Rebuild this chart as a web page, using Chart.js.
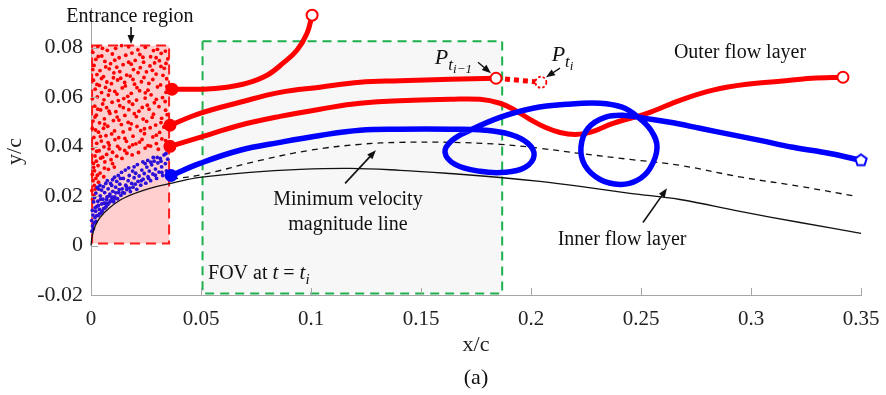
<!DOCTYPE html>
<html>
<head>
<meta charset="utf-8">
<script src="https://cdn.jsdelivr.net/npm/chart.js@4.4.1/dist/chart.umd.min.js"></script>
<style>
  html, body { margin: 0; padding: 0; background: #fff; }
</style>
</head>
<body>
<canvas id="flowChart" width="886" height="395"></canvas>
<script>
// axis ticks
const xTickValues = [0, 0.05, 0.1, 0.15, 0.2, 0.25, 0.3, 0.35];
const yTickValues = [-0.02, 0, 0.02, 0.04, 0.06, 0.08];

// solid black line (wall side)
const wallLine = [[0,0],[0.0005,0.0036],[0.0018,0.0077],[0.0041,0.0113],[0.0086,0.0154],[0.0155,0.0194],[0.0268,0.0231],[0.0382,0.0255],[0.0495,0.0275],[0.0723,0.0296],[0.095,0.0308],[0.1177,0.0312],[0.1405,0.0304],[0.1632,0.0291],[0.1859,0.0275],[0.2041,0.0259],[0.2223,0.0239],[0.245,0.0211],[0.2677,0.0186],[0.295,0.0138],[0.3223,0.0093],[0.35,0.0049]];

// dashed black line: minimum velocity magnitude
const minVelLine = [[0.0368,0.0268],[0.0509,0.0287],[0.0768,0.0344],[0.0995,0.0385],[0.1223,0.0409],[0.1405,0.0417],[0.1632,0.0417],[0.1859,0.0409],[0.2041,0.0393],[0.2223,0.0372],[0.245,0.0348],[0.2677,0.0324],[0.2964,0.0275],[0.3223,0.0239],[0.3482,0.0198]];

// outer layer paths (red)
const outerPath1 = [[0.0368,0.0632],[0.0509,0.0632],[0.0618,0.064],[0.0709,0.0656],[0.08,0.0688],[0.0873,0.0737],[0.0936,0.0789],[0.0982,0.0858],[0.1005,0.0931]];
const outerPath2 = [[0.0359,0.0486],[0.0495,0.0534],[0.0677,0.0579],[0.0859,0.0619],[0.1041,0.064],[0.1223,0.066],[0.1405,0.0666],[0.1632,0.0672],[0.1841,0.0676]];
const outerPath3 = [[0.0359,0.0401],[0.0495,0.0437],[0.0677,0.0486],[0.0859,0.0522],[0.1041,0.0551],[0.1223,0.0575],[0.1464,0.0587],[0.1632,0.0591],[0.1768,0.0591],[0.1859,0.0575],[0.1927,0.0547],[0.1995,0.051],[0.2064,0.0478],[0.2132,0.0457],[0.22,0.0449],[0.2268,0.0457],[0.2373,0.0494],[0.2527,0.0534],[0.2677,0.0587],[0.2827,0.0628],[0.2982,0.0652],[0.3132,0.0664],[0.3277,0.0676],[0.3418,0.068]];
const nextStep = [[0.1841,0.0676],[0.2045,0.066]];

// inner layer path (blue)
const innerPath = [[0.0364,0.0283],[0.0495,0.0332],[0.0677,0.0385],[0.0859,0.0417],[0.1041,0.0445],[0.1223,0.0466],[0.1405,0.047],[0.1632,0.047],[0.1791,0.0466],[0.1905,0.0449],[0.1986,0.0413],[0.2014,0.0364],[0.1973,0.0316],[0.1882,0.0296],[0.1768,0.03],[0.1655,0.0328],[0.1609,0.0377],[0.1641,0.0425],[0.1723,0.0466],[0.1859,0.0518],[0.2009,0.0555],[0.2164,0.0571],[0.2314,0.0575],[0.2414,0.0559],[0.2482,0.0522],[0.2545,0.0466],[0.2573,0.0397],[0.2541,0.0312],[0.2482,0.0263],[0.2405,0.0247],[0.2314,0.0267],[0.2245,0.0324],[0.2227,0.0397],[0.2259,0.0474],[0.2336,0.0518],[0.2427,0.0526],[0.2518,0.0514],[0.2632,0.0498],[0.2768,0.0474],[0.2905,0.0449],[0.3041,0.0425],[0.3191,0.0397],[0.3359,0.0372],[0.35,0.0344]];

// particles in the entrance region
const redSeeds = [
  [0.0031,0.0804],[0.0112,0.0797],[0.0139,0.0808],[0.0247,0.0801],[0.0302,0.0793],
  [0.0008,0.0781],[0.0074,0.0789],[0.0186,0.0778],[0.0213,0.0791],[0.0338,0.0786],
  [0.0049,0.0766],[0.0097,0.0774],[0.0158,0.0769],[0.0271,0.0763],[0.0319,0.0777],
  [0.0022,0.0752],[0.0128,0.0759],[0.0201,0.0748],[0.0236,0.0761],[0.0349,0.0754],
  [0.0063,0.0744],[0.0089,0.0735],[0.0171,0.0741],[0.0289,0.0738],[0.0311,0.0747],
  [0.0014,0.0728],[0.0117,0.0721],[0.0146,0.0731],[0.0224,0.0719],[0.0268,0.0726],
  [0.0041,0.0707],[0.0083,0.0714],[0.0193,0.0711],[0.0252,0.0702],[0.0333,0.0716],
  [0.0027,0.0691],[0.0104,0.0698],[0.0162,0.0689],[0.0214,0.0699],[0.0296,0.0693],
  [0.0057,0.0683],[0.0135,0.0676],[0.0178,0.0685],[0.0241,0.0679],[0.0344,0.0674],
  [0.0011,0.0668],[0.0072,0.0661],[0.0121,0.0669],[0.0229,0.0662],[0.0281,0.0671],
  [0.0038,0.0647],[0.0093,0.0654],[0.0156,0.0645],[0.0198,0.0652],[0.0316,0.0649],
  [0.0019,0.0632],[0.0066,0.0639],[0.0142,0.0637],[0.0259,0.0628],[0.0302,0.0641],
  [0.0048,0.0618],[0.0108,0.0623],[0.0183,0.0615],[0.0221,0.0626],[0.0341,0.0619],
  [0.0029,0.0601],[0.0079,0.0608],[0.0167,0.0603],[0.0273,0.0609],[0.0325,0.0598],
  [0.0006,0.0593],[0.0124,0.0586],[0.0149,0.0594],[0.0207,0.0588],[0.0246,0.0596],
  [0.0053,0.0572],[0.0096,0.0579],[0.0189,0.0571],[0.0288,0.0577],[0.0337,0.0582],
  [0.0017,0.0563],[0.0071,0.0557],[0.0131,0.0565],[0.0233,0.0558],[0.0309,0.0561],
  [0.0044,0.0548],[0.0113,0.0541],[0.0172,0.0549],[0.0218,0.0543],[0.0264,0.0551],
  [0.0024,0.0527],[0.0086,0.0534],[0.0154,0.0526],[0.0197,0.0533],[0.0346,0.0529],
  [0.0061,0.0512],[0.0119,0.0519],[0.0237,0.0511],[0.0278,0.0518],[0.0321,0.0514],
  [0.0009,0.0503],[0.0039,0.0496],[0.0102,0.0505],[0.0169,0.0498],[0.0253,0.0502],
  [0.0076,0.0482],[0.0138,0.0489],[0.0209,0.0481],[0.0294,0.0487],[0.0331,0.0479],
  [0.0021,0.0467],[0.0057,0.0474],[0.0177,0.0471],[0.0226,0.0464],[0.0269,0.0476],
  [0.0034,0.0458],[0.0094,0.0451],[0.0146,0.0459],[0.0243,0.0452],[0.0312,0.0457],
  [0.0013,0.0437],[0.0068,0.0444],[0.0126,0.0436],[0.0191,0.0442],[0.0281,0.0439],
  [0.0047,0.0422],[0.0109,0.0428],[0.0161,0.0421],[0.0232,0.0429],[0.0339,0.0424],
  [0.0026,0.0413],[0.0083,0.0406],[0.0204,0.0411],[0.0259,0.0404],[0.0297,0.0412],
  [0.0008,0.0392],[0.0059,0.0399],[0.0131,0.0391],[0.0174,0.0398],[0.0246,0.0394],
  [0.0037,0.0383],[0.0098,0.0377],[0.0153,0.0384],[0.0216,0.0376],[0.0306,0.0389],
  [0.0018,0.0362],[0.0071,0.0368],[0.0117,0.0361],[0.0187,0.0366],
  [0.0044,0.0353],[0.0091,0.0347],[0.0141,0.0352],
  [0.0011,0.0332],[0.0063,0.0338],
  [0.0032,0.0323],[0.0106,0.0317],
  [0.0016,0.0302],[0.0079,0.0308],[0.0041,0.0293],[0.0006,0.0287],
  [0.0022,0.0271],[0.0058,0.0278],[0.0009,0.0262],[0.0034,0.0256],
  [0.0015,0.0243],[0.0004,0.0222],[0.0012,0.0203],[0.0007,0.0186],
  [0.0052,0.0797],[0.0171,0.0803],[0.0284,0.0788],[0.0033,0.0764],[0.0222,0.0772],[0.0296,0.0759],
  [0.0108,0.0749],[0.0183,0.0733],[0.0341,0.0736],[0.0067,0.0722],[0.0239,0.0741],[0.0318,0.0724],
  [0.0131,0.0703],[0.0279,0.0708],[0.0008,0.0711],[0.0048,0.0675],[0.0191,0.0671],[0.0327,0.0688],
  [0.0153,0.0659],[0.0263,0.0655],[0.0102,0.0678],[0.0027,0.0651],[0.0209,0.0638],[0.0345,0.0643],
  [0.0118,0.0612],[0.0247,0.0617],[0.0084,0.0627],[0.0059,0.0589],[0.0297,0.0591],[0.0173,0.0581],
  [0.0031,0.0551],[0.0147,0.0557],[0.0256,0.0567],[0.0082,0.0543],[0.0206,0.0521],[0.0339,0.0547],
  [0.0018,0.0519],[0.0127,0.0507],[0.0284,0.0531],[0.0062,0.0491],[0.0183,0.0492],[0.0318,0.0497],
  [0.0107,0.0463],[0.0243,0.0472],[0.0006,0.0473],[0.0154,0.0433],[0.0297,0.0446],[0.0043,0.0441],
  [0.0078,0.0416],[0.0221,0.0418],[0.0322,0.0431],[0.0121,0.0401],[0.0189,0.0407],[0.0271,0.0402],
  [0.0026,0.0381],[0.0163,0.0373],[0.0082,0.0391],[0.0053,0.0357],[0.0098,0.0331],
  [0.0024,0.0341],[0.0061,0.0313],[0.0012,0.0316],[0.0029,0.0284],[0.0019,0.0228]
];
const blueSeeds = [
  [0.0004,0.0058],[0.0007,0.0079],[0.0003,0.0101],[0.0011,0.0068],[0.0009,0.0123],[0.0014,0.0091],[0.0006,0.0142],[0.0018,0.0113],
  [0.0012,0.0176],[0.0023,0.0097],[0.0021,0.0139],[0.0027,0.0158],[0.0016,0.0194],[0.0033,0.0121],[0.0031,0.0179],[0.0038,0.0146],
  [0.0042,0.0201],[0.0046,0.0131],[0.0049,0.0168],[0.0054,0.0187],[0.0057,0.0149],[0.0062,0.0214],[0.0066,0.0171],[0.0069,0.0158],
  [0.0073,0.0196],[0.0078,0.0229],[0.0081,0.0172],[0.0086,0.0208],[0.0091,0.0183],[0.0094,0.0243],[0.0099,0.0219],[0.0103,0.0177],
  [0.0108,0.0197],[0.0112,0.0236],[0.0117,0.0259],[0.0121,0.0189],[0.0126,0.0214],[0.0131,0.0248],[0.0136,0.0203],[0.0142,0.0229],
  [0.0147,0.0271],[0.0152,0.0212],[0.0158,0.0244],[0.0163,0.0226],[0.0169,0.0262],[0.0174,0.0283],[0.0179,0.0218],[0.0185,0.0251],
  [0.0191,0.0236],[0.0196,0.0274],[0.0203,0.0292],[0.0208,0.0227],[0.0214,0.0259],[0.0219,0.0281],[0.0226,0.0244],[0.0231,0.0305],
  [0.0237,0.0268],[0.0242,0.0291],[0.0249,0.0252],[0.0254,0.0317],[0.0259,0.0278],[0.0265,0.0301],[0.0271,0.0262],[0.0276,0.0326],
  [0.0281,0.0289],[0.0287,0.0341],[0.0293,0.0309],[0.0298,0.0271],[0.0304,0.0334],[0.0309,0.0297],[0.0315,0.0352],[0.0321,0.0318],
  [0.0326,0.0283],[0.0332,0.0366],[0.0338,0.0331],[0.0343,0.0302],[0.0349,0.0349],[0.0283,0.0356],[0.0246,0.0331],[0.0189,0.0301],
  [0.0134,0.0271],[0.0089,0.0251],[0.0048,0.0224],
  [0.0022,0.0212],[0.0035,0.0228],[0.0041,0.0243],[0.0028,0.0235],[0.0056,0.0238],[0.0067,0.0251],[0.0074,0.0262],[0.0098,0.0266],
  [0.0107,0.0276],[0.0124,0.0283],[0.0139,0.0296],[0.0156,0.0305],[0.0171,0.0314],[0.0196,0.0318],[0.0211,0.0327],[0.0236,0.0338],
  [0.0258,0.0344],[0.0272,0.0337],[0.0301,0.0356],[0.0318,0.0341],[0.0341,0.0372],[0.0019,0.0153],[0.0026,0.0121],[0.0034,0.0162],
  [0.0039,0.0128],[0.0044,0.0187],[0.0051,0.0139],[0.0059,0.0171],[0.0064,0.0152],[0.0071,0.0186],[0.0076,0.0166],[0.0083,0.0201],
  [0.0087,0.0178],[0.0096,0.0195],[0.0105,0.0188],[0.0113,0.0213],[0.0128,0.0226],[0.0144,0.0214],[0.0161,0.0238],[0.0176,0.0232],
  [0.0201,0.0248],[0.0229,0.0262],[0.0262,0.0271],[0.0292,0.0284],[0.0322,0.0296]
];

// region boxes [x0, x1, y0, y1]
const entranceBox = [0.0005, 0.0355, 0.0008, 0.0808];
const fovBox = [0.0507, 0.1869, -0.0194, 0.0826];

const pts = arr => arr.map(p => ({ x: p[0], y: p[1] }));
const SERIF = "'Liberation Serif', 'Times New Roman', serif";

function pentagon(size, color) {
  const c = document.createElement('canvas');
  c.width = c.height = size;
  const g = c.getContext('2d');
  const r = size / 2 - 2;
  g.beginPath();
  for (let k = 0; k < 5; k++) {
    const a = -Math.PI / 2 + k * 2 * Math.PI / 5;
    g.lineTo(size / 2 + r * Math.cos(a), size / 2 + r * Math.sin(a));
  }
  g.closePath();
  g.fillStyle = '#fff';
  g.fill();
  g.lineWidth = 2;
  g.strokeStyle = color;
  g.stroke();
  return c;
}

function arrow(ctx, x1, y1, x2, y2) {
  const a = Math.atan2(y2 - y1, x2 - x1);
  ctx.beginPath();
  ctx.moveTo(x1, y1);
  ctx.lineTo(x2 - 7 * Math.cos(a), y2 - 7 * Math.sin(a));
  ctx.stroke();
  ctx.beginPath();
  ctx.moveTo(x2, y2);
  ctx.lineTo(x2 - 9 * Math.cos(a) + 3.5 * Math.sin(a), y2 - 9 * Math.sin(a) - 3.5 * Math.cos(a));
  ctx.lineTo(x2 - 9 * Math.cos(a) - 3.5 * Math.sin(a), y2 - 9 * Math.sin(a) + 3.5 * Math.cos(a));
  ctx.closePath();
  ctx.fill();
}

function runs(ctx, x, y, parts) {
  let cx = x;
  parts.forEach(([t, f, dy]) => {
    ctx.font = f;
    ctx.fillText(t, cx, y + (dy || 0));
    cx += ctx.measureText(t).width;
  });
}

const boxes = {
  id: 'boxes',
  beforeDatasetsDraw(chart) {
    const { ctx, scales: { x, y } } = chart;
    ctx.save();
    // field of view
    let x0 = x.getPixelForValue(fovBox[0]), x1 = x.getPixelForValue(fovBox[1]);
    let y0 = y.getPixelForValue(fovBox[2]), y1 = y.getPixelForValue(fovBox[3]);
    ctx.fillStyle = '#f7f7f7';
    ctx.fillRect(x0, y1, x1 - x0, y0 - y1);
    ctx.strokeStyle = '#1fb04e';
    ctx.lineWidth = 2;
    ctx.setLineDash([9, 6]);
    ctx.strokeRect(x0, y1, x1 - x0, y0 - y1);
    // entrance region
    x0 = x.getPixelForValue(entranceBox[0]); x1 = x.getPixelForValue(entranceBox[1]);
    y0 = y.getPixelForValue(entranceBox[2]); y1 = y.getPixelForValue(entranceBox[3]);
    ctx.fillStyle = '#ffcfcf';
    ctx.fillRect(x0, y1, x1 - x0, y0 - y1);
    ctx.strokeStyle = '#ff1a1a';
    ctx.setLineDash([10, 6]);
    ctx.strokeRect(x0, y1, x1 - x0, y0 - y1);
    ctx.restore();
  },
  afterDatasetsDraw(chart) {
    const { ctx, scales: { x, y } } = chart;
    const X = v => x.getPixelForValue(v), Y = v => y.getPixelForValue(v);
    ctx.save();
    // inward tick marks
    ctx.strokeStyle = '#a6a6a6';
    ctx.lineWidth = 1;
    xTickValues.forEach(v => {
      ctx.beginPath(); ctx.moveTo(Math.round(X(v)) + 0.5, Y(-0.02)); ctx.lineTo(Math.round(X(v)) + 0.5, Y(-0.02) - 7); ctx.stroke();
    });
    yTickValues.forEach(v => {
      ctx.beginPath(); ctx.moveTo(X(0), Math.round(Y(v)) + 0.5); ctx.lineTo(X(0) + 7, Math.round(Y(v)) + 0.5); ctx.stroke();
    });
    // dashed circle at the next position
    ctx.setLineDash([2.5, 2]);
    ctx.lineWidth = 1.8;
    ctx.strokeStyle = '#ff0000';
    ctx.fillStyle = '#fff';
    ctx.beginPath();
    ctx.arc(X(nextStep[1][0]), Y(nextStep[1][1]), 5.5, 0, Math.PI * 2);
    ctx.fill();
    ctx.stroke();
    ctx.setLineDash([]);

    // annotations
    ctx.fillStyle = '#111';
    ctx.strokeStyle = '#111';
    ctx.lineWidth = 1.6;
    ctx.textBaseline = 'middle';
    ctx.textAlign = 'center';
    ctx.font = '20px ' + SERIF;
    ctx.fillText('Entrance region', X(0.0177), Y(0.0923));
    ctx.fillText('Outer flow layer', X(0.295), Y(0.0781));
    ctx.fillText('Minimum velocity', X(0.1168), Y(0.0186));
    ctx.fillText('magnitude line', X(0.1168), Y(0.0085));
    ctx.fillText('Inner flow layer', X(0.2414), Y(0.0024));
    ctx.font = '22px ' + SERIF;
    ctx.fillText('(a)', X(0.175), 378);

    arrow(ctx, X(0.0182), Y(0.0883), X(0.0182), Y(0.0814));
    arrow(ctx, X(0.1155), Y(0.0251), X(0.1295), Y(0.0385));
    arrow(ctx, X(0.2509), Y(0.0093), X(0.2618), Y(0.0231));
    ctx.lineWidth = 1.3;
    arrow(ctx, X(0.1759), Y(0.0741), X(0.1818), Y(0.0696));
    arrow(ctx, X(0.2132), Y(0.0717), X(0.2068), Y(0.068));

    ctx.textAlign = 'left';
    ctx.textBaseline = 'alphabetic';
    const it = s => 'italic ' + s + 'px ' + SERIF;
    const up = s => s + 'px ' + SERIF;
    runs(ctx, X(0.1563), Y(0.0735), [['P', it(22)], ['t', it(17), 6], ['i\u22121', it(13), 9]]);
    runs(ctx, X(0.2094), Y(0.0745), [['P', it(22)], ['t', it(17), 6], ['i', it(13), 9]]);
    runs(ctx, X(0.0532), Y(-0.0109) + 7, [['FOV at ', up(20)], ['t', it(21)], [' = ', up(20)], ['t', it(21)], ['i', it(15), 5]]);
    ctx.restore();
  }
};

const ctx = document.getElementById('flowChart');
new Chart(ctx, {
  type: 'scatter',
  data: {
    datasets: [
      { data: pts([outerPath1[0], outerPath2[0], outerPath3[0]]), pointRadius: 6.5, pointBackgroundColor: '#ff0000', pointBorderWidth: 0, order: 0 },
      { data: pts([innerPath[0]]), pointRadius: 6.5, pointBackgroundColor: '#0000ff', pointBorderWidth: 0, order: 0 },
      { data: pts([outerPath1[outerPath1.length - 1], outerPath2[outerPath2.length - 1], outerPath3[outerPath3.length - 1]]),
        pointRadius: 5.5, pointBackgroundColor: '#fff', pointBorderColor: '#ff0000', pointBorderWidth: 2, order: 0 },
      { data: pts([innerPath[innerPath.length - 1]]), pointStyle: pentagon(16, '#0000ff'), order: 0 },
      { data: pts(nextStep), showLine: true, borderColor: '#ff0000', borderWidth: 5, borderDash: [5, 4], pointRadius: 0, order: 1 },
      { data: pts(innerPath), showLine: true, borderColor: '#0000ff', borderWidth: 5.5, tension: 0.4, pointRadius: 0, order: 2 },
      { data: pts(outerPath1), showLine: true, borderColor: '#ff0000', borderWidth: 5, tension: 0.4, pointRadius: 0, order: 3 },
      { data: pts(outerPath2), showLine: true, borderColor: '#ff0000', borderWidth: 5, tension: 0.4, pointRadius: 0, order: 3 },
      { data: pts(outerPath3), showLine: true, borderColor: '#ff0000', borderWidth: 5, tension: 0.4, pointRadius: 0, order: 3 },
      { data: pts(minVelLine), showLine: true, borderColor: '#111', borderWidth: 1.3, borderDash: [6, 5], tension: 0.4, pointRadius: 0, order: 4 },
      { data: pts(wallLine), showLine: true, borderColor: '#111', borderWidth: 1.3, tension: 0.4, pointRadius: 0, order: 4 },
      { data: pts(blueSeeds), pointRadius: 1.9, pointBackgroundColor: '#2a10d8', pointBorderWidth: 0, order: 5 },
      { data: pts(redSeeds), pointRadius: 1.9, pointBackgroundColor: '#ff0000', pointBorderWidth: 0, order: 6 }
    ]
  },
  options: {
    responsive: false,
    animation: false,
    clip: false,
    layout: { padding: { top: 8, right: 25, left: 0, bottom: 0 } },
    plugins: { legend: { display: false }, tooltip: { enabled: false } },
    scales: {
      x: {
        type: 'linear', min: 0, max: 0.35,
        afterBuildTicks: axis => { axis.ticks = xTickValues.map(v => ({ value: v })); },
        afterFit: s => { s.height = 100; s.paddingLeft = 0; s.paddingRight = 0; },
        grid: { display: false, drawTicks: false },
        border: { display: true, color: '#a6a6a6', width: 1 },
        ticks: { padding: 12, color: '#222', font: { family: SERIF, size: 21 }, callback: v => String(+v.toFixed(2)) },
        title: { display: true, text: 'x/c', color: '#222', font: { family: SERIF, size: 22 }, padding: { top: 0, bottom: 37 } }
      },
      y: {
        type: 'linear', min: -0.02, max: 0.096,
        afterBuildTicks: axis => { axis.ticks = yTickValues.map(v => ({ value: v })); },
        afterFit: s => { s.width = 91; s.paddingTop = 0; s.paddingBottom = 0; },
        grid: { display: false, drawTicks: false },
        border: { display: true, color: '#a6a6a6', width: 1 },
        ticks: { padding: 8, color: '#222', font: { family: SERIF, size: 22 }, callback: v => String(+v.toFixed(2)) },
        title: { display: true, text: 'y/c', color: '#222', font: { family: SERIF, size: 22 }, padding: { top: 2, bottom: 0 } }
      }
    }
  },
  plugins: [boxes]
});
</script>
</body>
</html>
